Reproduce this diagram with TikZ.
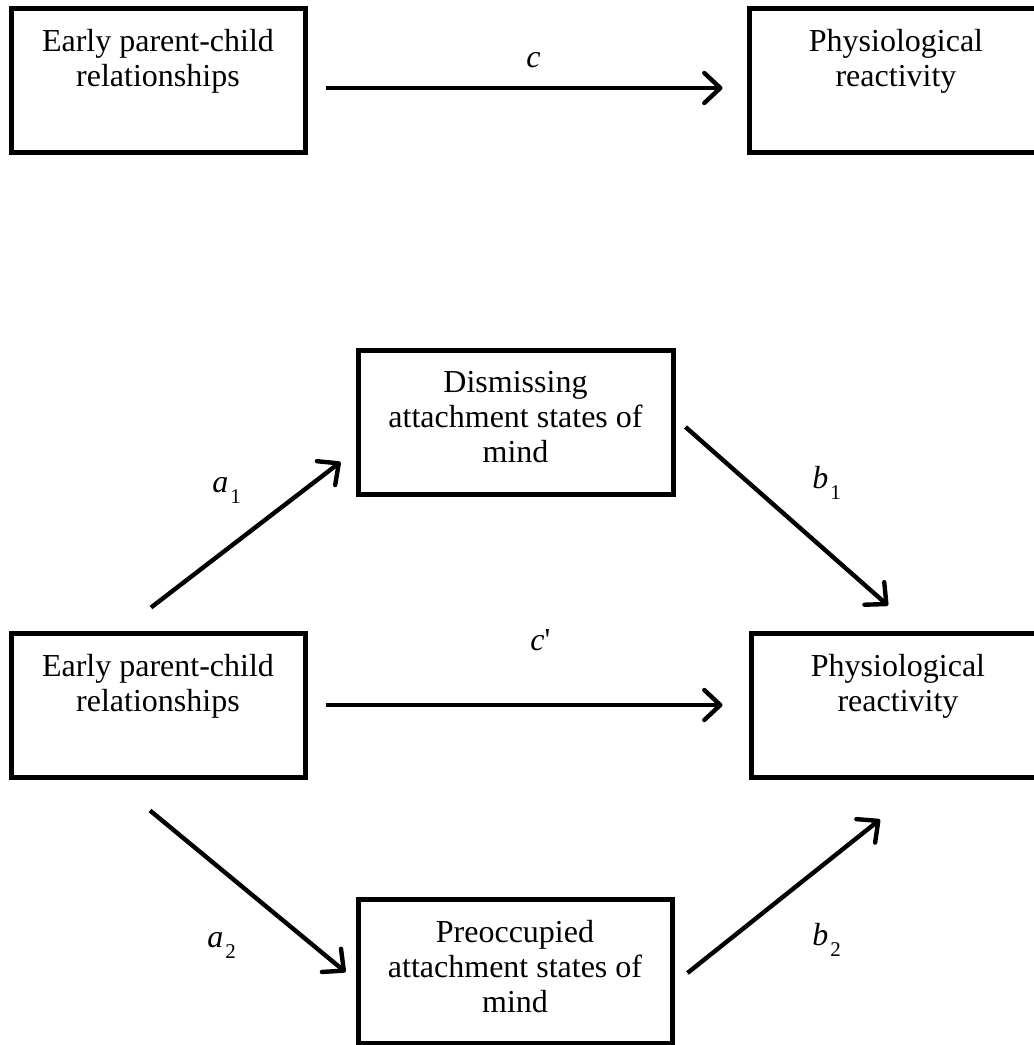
\documentclass[tikz,border=0pt]{standalone}
\usepackage{fontspec}
\setmainfont{Liberation Serif}
\usetikzlibrary{arrows.meta, calc}
\newcommand{\boxlines}[2]{\parbox[c][51pt][t]{#1}{\centering #2}}
\newcommand{\pathlbl}[2]{\textit{#1}\kern1pt\raisebox{-5.5pt}{\fontsize{10.5}{10.5}\selectfont #2}}
\tikzset{
  every picture/.style={font=\fontsize{16}{17.5}\selectfont},
  box/.style={draw, line width=2.5pt, minimum width=#1, minimum height=72pt, inner xsep=0pt, inner ysep=10pt},
  box/.default=147pt,
  arrow/.style={-{Straight Barb[length=8pt, width=15pt, round]}, line width=2.2pt},
  lbl/.style={inner sep=0pt, anchor=base west},
}
\begin{document}
\begin{tikzpicture}[x=0.5pt, y=0.5pt]
  \useasboundingbox (0,0) rectangle (1034,-1045);
  % total effect
  \node[box] (tl) at (158,-80) {\boxlines{147pt}{Early parent-child\\relationships}};
  \node[box] (tr) at (896,-80) {\boxlines{147pt}{Physiological\\reactivity}};
  \draw[arrow] ($(tl.east)+(18,-8)$) -- ($(tr.west)+(-24,-8)$);
  \node[lbl] (lc) at (526,-67) {\textit{c}};

  % mediated model
  \node[box] (el) at (158,-705) {\boxlines{147pt}{Early parent-child\\relationships}};
  \node[box] (pr) at (898,-705) {\boxlines{147pt}{Physiological\\reactivity}};
  \node[box=157.5pt] (dis) at (515.5,-422.5) {\boxlines{157.5pt}{Dismissing\\attachment states of\\mind}};
  \node[box=157pt] (pre) at (515,-971) {\boxlines{157pt}{Preoccupied\\attachment states of\\mind}};

  \draw[arrow] ($(el.east)+(18,0)$) -- ($(pr.west)+(-26,0)$);
  \draw[arrow] ($(el.north)+(-7,23)$) -- ($(dis.west)+(-15,-39.5)$);
  \draw[arrow] ($(dis.east)+(10,-4.5)$) -- ($(pr.north)+(-10,25)$);
  \draw[arrow] ($(el.south)+(-8,-31)$) -- ($(pre.west)+(-10,-1)$);
  \draw[arrow] ($(pre.east)+(13,-2)$) -- ($(pr.south)+(-18,-40)$);

  \node[lbl] (lcp) at (530,-650) {\textit{c}\textquotesingle};
  \node[lbl] (la1) at (212,-492) {\pathlbl{a}{1}};
  \node[lbl] (lb1) at (812,-488) {\pathlbl{b}{1}};
  \node[lbl] (la2) at (207,-947) {\pathlbl{a}{2}};
  \node[lbl] (lb2) at (812,-945) {\pathlbl{b}{2}};
\end{tikzpicture}
\end{document}
